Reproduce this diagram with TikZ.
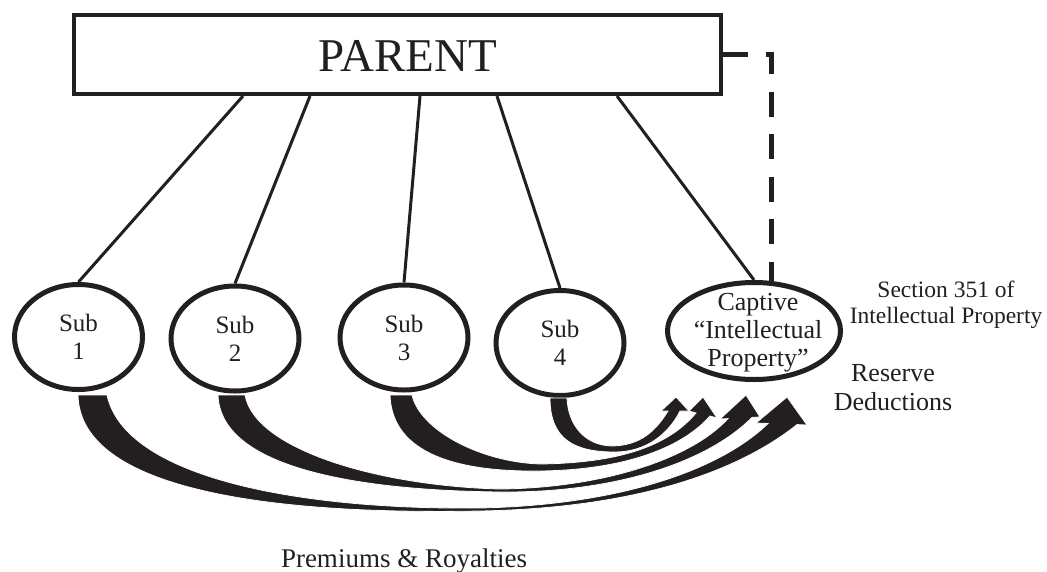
\documentclass[tikz,border=0pt]{standalone}
\usepackage{fontspec}
\setmainfont{Liberation Serif}
\usetikzlibrary{shapes.geometric,calc}
\definecolor{ink}{RGB}{35,31,32}
\newcommand\parentfont{\fontsize{47}{52}\selectfont}
\newcommand\subfont{\fontsize{25}{28}\selectfont}
\newcommand\capfont{\fontsize{26}{28}\selectfont}
\newcommand\sidefont{\fontsize{23.5}{26}\selectfont}
\newcommand\resfont{\fontsize{26}{29}\selectfont}
\newcommand\premfont{\fontsize{27}{30}\selectfont}
\begin{document}
\begin{tikzpicture}[x=1pt,y=-1pt,
  box/.style={draw=ink,line width=4pt,minimum width=647pt,minimum height=79pt,inner sep=0pt},
  subell/.style={ellipse,draw=ink,line width=5pt,minimum width=128pt,minimum height=105pt,inner sep=0pt},
  capell/.style={ellipse,draw=ink,line width=5pt,minimum width=173pt,minimum height=97pt,inner sep=0pt},
  tie/.style={draw=ink,line width=3pt},
  dashline/.style={draw=ink,line width=5pt,dash pattern=on 25pt off 17.5pt,line join=miter},
  lbl/.style={text=ink,align=center,inner sep=0pt},
  flow/.style={fill=ink,draw=white,line width=0.8pt,line join=miter}
]
\useasboundingbox (0,0) rectangle (1047,571);
\fill[white] (0,0) rectangle (1047,571);

% parent
\node[box] (parent) at (397.5,54.5) {};
\node[lbl,font=\parentfont] (ptext) at (408,55.5) {PARENT};

% subsidiaries
\node[subell] (sub1) at (78.5,337) {};
\node[subell] (sub2) at (235,338.5) {};
\node[subell] (sub3) at (404,337.5) {};
\node[subell] (sub4) at (560,343) {};
\node[capell] (cap) at (754,331) {};

\node[lbl,font=\subfont] (t1) at (sub1) {Sub\\1};
\node[lbl,font=\subfont] (t2) at (sub2) {Sub\\2};
\node[lbl,font=\subfont] (t3) at (sub3) {Sub\\3};
\node[lbl,font=\subfont] (t4) at (sub4) {Sub\\4};
\node[lbl,font=\capfont] (tc) at ($(cap)+(4,2)$) {Captive\\``Intellectual\\Property''};

% ownership lines
\coordinate (p1) at ($(parent.south west)+(171,0)$);
\coordinate (p2) at ($(parent.south west)+(238,0)$);
\coordinate (p3) at ($(parent.south west)+(348,0)$);
\coordinate (p4) at ($(parent.south west)+(425,0)$);
\coordinate (p5) at ($(parent.south west)+(545,0)$);
\draw[tie] (p1) -- (sub1.north);
\draw[tie] (p2) -- (sub2.north);
\draw[tie] (p3) -- (sub3.north);
\draw[tie] (p4) -- (sub4.north);
\draw[tie] (p5) -- (cap.north);

% dashed link
\coordinate (dc) at ($(parent.east)+(48,0)$);
\coordinate (dend) at ($(cap.north)+(17,2)$);
\draw[dashline] (parent.east) -- (dc) -- (dc |- dend);

% side labels
\node[lbl,font=\sidefont] (sec) at (946,305) {Section 351 of\\Intellectual Property};
\node[lbl,font=\resfont] (res) at (893,388) {Reserve\\Deductions};
\node[lbl,font=\premfont,anchor=base] (prem) at (404,567) {Premiums \& Royalties};

% flow arrows
\filldraw[flow] (78,395) .. controls (80,490) and (270,515) .. (480,511)
  .. controls (640,508) and (740,470) .. (797,424.6) -- (807,425) -- (787,397) -- (756,423) -- (768,423.5)
  .. controls (720,470) and (620,505) .. (480,508)
  .. controls (300,510) and (125,478) .. (107,395) -- cycle;
\filldraw[flow] (218,395) .. controls (220,460) and (330,490) .. (500,492)
  .. controls (620,493) and (710,460) .. (752,417.4) -- (760,417) -- (746,395) -- (720,419) -- (728,418.6)
  .. controls (690,460) and (600,488) .. (500,489)
  .. controls (380,486) and (255,450) .. (245,395) -- cycle;
\filldraw[flow] (390,395) .. controls (392,455) and (460,472) .. (540,471)
  .. controls (620,470) and (680,450) .. (710,416) -- (717,418) -- (703,397) -- (689,411) -- (696,413)
  .. controls (665,450) and (610,463) .. (540,464)
  .. controls (480,462) and (420,430) .. (412,395) -- cycle;
\filldraw[flow] (550,398) .. controls (550,440) and (575,452) .. (615,452)
  .. controls (645,452) and (668,435) .. (680,411) -- (689,411) -- (676,397) -- (661,411) -- (668,411)
  .. controls (655,432) and (640,445) .. (613,446)
  .. controls (585,446) and (568,425) .. (567,398) -- cycle;
\end{tikzpicture}
\end{document}
